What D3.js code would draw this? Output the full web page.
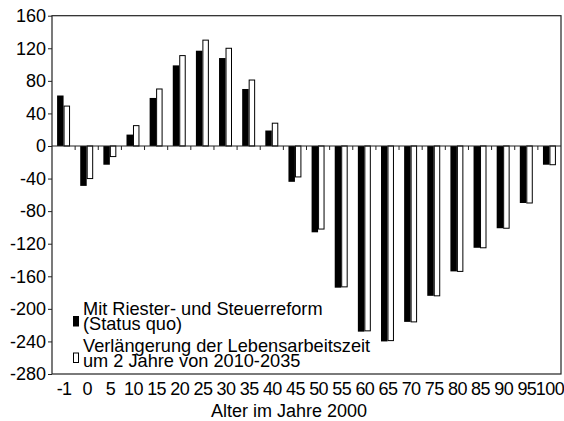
<!DOCTYPE html>
<html><head><meta charset="utf-8">
<script src="https://cdn.jsdelivr.net/npm/d3@7"></script>
<style>
body{margin:0;background:#fff;}
svg text{font-family:"Liberation Sans",Arial,Helvetica,sans-serif;fill:#000;}
</style></head>
<body><svg id="c" width="564" height="421"></svg>
<script>
const categories = ["-1","0","5","10","15","20","25","30","35","40","45","50","55","60","65","70","75","80","85","90","95","100"];
const statusQuo = [62,-49,-23,14,59,99,117,108,70,19,-44,-106,-174,-228,-240,-216,-184,-154,-125,-101,-70,-23];
const verlaengerung = [49,-40,-13,25,70,111,130,120,81,28,-38,-102,-173,-227,-239,-216,-184,-154,-125,-101,-70,-23];
const yTicks = [160,120,80,40,0,-40,-80,-120,-160,-200,-240,-280];
const seriesNames = ["statusQuo","verlaengerung"];
const legendLabels = [["Mit Riester- und Steuerreform","(Status quo)"],["Verlängerung der Lebensarbeitszeit","um 2 Jahre von 2010-2035"]];
const xTitle = "Alter im Jahre 2000";

const svg = d3.select("#c");
const L=52, R=561, T=15.7, B=374;
const x = d3.scaleBand().domain(categories).range([L,R]).padding(0);
const y = d3.scaleLinear().domain([-280,160]).range([B,T]);
const bw = x.bandwidth();
const xs = d3.scaleBand().domain(seriesNames).range([bw*0.22, bw*0.78]);
const data = categories.map((c,i)=>({c, statusQuo:statusQuo[i], verlaengerung:verlaengerung[i]}));

// bars
const g = svg.append("g");
g.selectAll("rect.b").data(data).join("rect")
  .attr("x",d=>x(d.c)+xs("statusQuo"))
  .attr("width",xs.bandwidth())
  .attr("y",d=>y(Math.max(0,d.statusQuo)))
  .attr("height",d=>Math.abs(y(d.statusQuo)-y(0)))
  .attr("fill","#000");
g.selectAll("rect.w").data(data).join("rect")
  .attr("x",d=>x(d.c)+xs("verlaengerung")+0.5)
  .attr("width",xs.bandwidth()-1)
  .attr("y",d=>y(Math.max(0,d.verlaengerung)))
  .attr("height",d=>Math.abs(y(d.verlaengerung)-y(0)))
  .attr("fill","#fff").attr("stroke","#000").attr("stroke-width",1);

// frame
svg.append("rect").attr("x",L).attr("y",T).attr("width",R-L).attr("height",B-T)
  .attr("fill","none").attr("stroke","#222").attr("stroke-width",1.2);

// y axis
const ya = svg.append("g").attr("transform",`translate(${L},0)`)
  .call(d3.axisLeft(y).tickValues(yTicks).tickSize(4).tickPadding(2).tickFormat(d=>String(d)));
ya.select(".domain").remove();
ya.selectAll("text").attr("font-size",18).style("font-family","Liberation Sans, Arial, sans-serif").attr("fill","#000");
ya.selectAll("line").attr("stroke","#222");

// zero line with ticks at band boundaries
const boundaries = categories.slice(1).map(c=>x(c));
const za = svg.append("g").attr("transform",`translate(0,${y(0)})`);
za.append("line").attr("x1",L).attr("x2",R).attr("stroke","#222").attr("stroke-width",1.2);
za.selectAll("line.t").data(boundaries).join("line").attr("class","t")
  .attr("x1",d=>d).attr("x2",d=>d).attr("y1",0).attr("y2",4).attr("stroke","#222");

// x labels
svg.append("g").selectAll("text").data(categories).join("text")
  .attr("x",d=>x(d)+bw/2+0.5).attr("y",395).attr("text-anchor","middle")
  .attr("font-size",18).attr("letter-spacing","-0.6").text(d=>d);

// x title
svg.append("text").attr("x",289).attr("y",416.5).attr("text-anchor","middle")
  .attr("font-size",18).text(xTitle);

// legend
const leg = svg.append("g");
const entryY = [315, 351.5];
legendLabels.forEach((lines,i)=>{
  const gy = entryY[i];
  leg.append("rect").attr("x",73.5).attr("y",gy+1.5).attr("width",5).attr("height",9.5)
    .attr("fill", i===0?"#000":"#fff").attr("stroke","#000").attr("stroke-width",1);
  lines.forEach((t,j)=>{
    leg.append("text").attr("x",83).attr("y",gy+j*15).attr("font-size",18.2).text(t);
  });
});
</script></body></html>
